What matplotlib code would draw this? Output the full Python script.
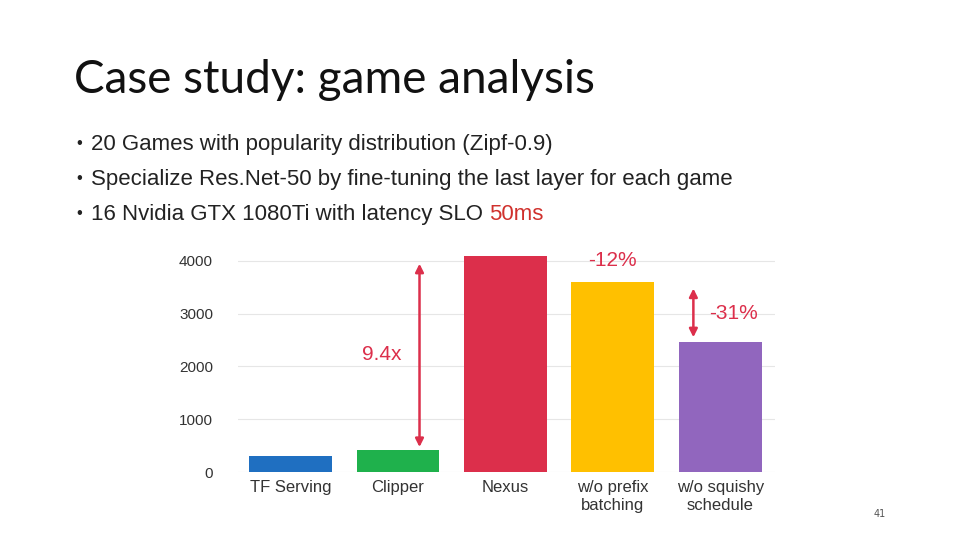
import matplotlib
matplotlib.use("Agg")
import matplotlib.pyplot as plt

categories = ["TF Serving", "Clipper", "Nexus", "w/o prefix\nbatching", "w/o squishy\nschedule"]
values = [300, 420, 4090, 3600, 2460]
colors = ["#1F6FC1", "#1FB14C", "#DC2F4B", "#FFC000", "#9166BE"]
yticks = [0, 1000, 2000, 3000, 4000]

fig = plt.figure(figsize=(9.6, 5.4), dpi=100)
fig.patch.set_facecolor("white")
fig.text(74/960, 1-80/540, "Case study: game analysis", fontsize=33, family="Lato", weight="normal", va="center", color="#111111")
bullets = ["20 Games with popularity distribution (Zipf-0.9)",
           "Specialize Res.Net-50 by fine-tuning the last layer for each game",
           "16 Nvidia GTX 1080Ti with latency SLO "]
for i, b in enumerate(bullets):
    y = 1 - (142 + 35*i)/540
    fig.text(76/960, y, "•", fontsize=12, family="Liberation Sans", va="center_baseline", color="#222222")
    t = fig.text(91/960, y, b, fontsize=16, family="Liberation Sans", va="center_baseline", color="#222222")
    if i == 2:
        fig.canvas.draw()
        bb = t.get_window_extent()
        fig.text(bb.x1/960, y, "50ms", fontsize=16, family="Liberation Sans", va="center_baseline", color="#D0312D")

ax = fig.add_axes([238/960, 68/540, 537/960, 219/540])
x = list(range(len(categories)))
ax.bar(x, values, width=0.77, color=colors, zorder=3)
ax.set_xlim(-0.49, 4.51)
ax.set_ylim(0, 4150)
ax.set_yticks(yticks)
ax.set_yticklabels([str(v) for v in yticks], fontsize=11, family="Liberation Sans", color="#333333")
ax.yaxis.grid(True, color="#E6E6E6", lw=0.8, zorder=0)
ax.tick_params(axis="y", length=0, pad=18)
ax.tick_params(axis="x", length=0, pad=6)
ax.set_xticks(x)
ax.set_xticklabels(categories, fontsize=12, family="Liberation Sans", color="#333333", va="top")
for s in ax.spines.values():
    s.set_visible(False)

red = "#DC2F4B"
ax.annotate("", xy=(1.2, 4000), xytext=(1.2, 420),
            arrowprops=dict(arrowstyle="<|-|>", color=red, lw=1.8, mutation_scale=12), zorder=4)
ax.text(0.85, 2220, "9.4x", fontsize=15, family="Liberation Sans", color=red, ha="center", va="center")
ax.text(3.0, 4000, "-12%", fontsize=15, family="Liberation Sans", color=red, ha="center", va="center")
ax.annotate("", xy=(3.75, 3530), xytext=(3.75, 2500),
            arrowprops=dict(arrowstyle="<|-|>", color=red, lw=1.8, mutation_scale=12), zorder=4)
ax.text(4.12, 3010, "-31%", fontsize=15, family="Liberation Sans", color=red, ha="center", va="center")

fig.text(880/960, 1-514/540, "41", fontsize=7, color="#555555", ha="center", va="center")
fig.savefig("out.png", dpi=100)
